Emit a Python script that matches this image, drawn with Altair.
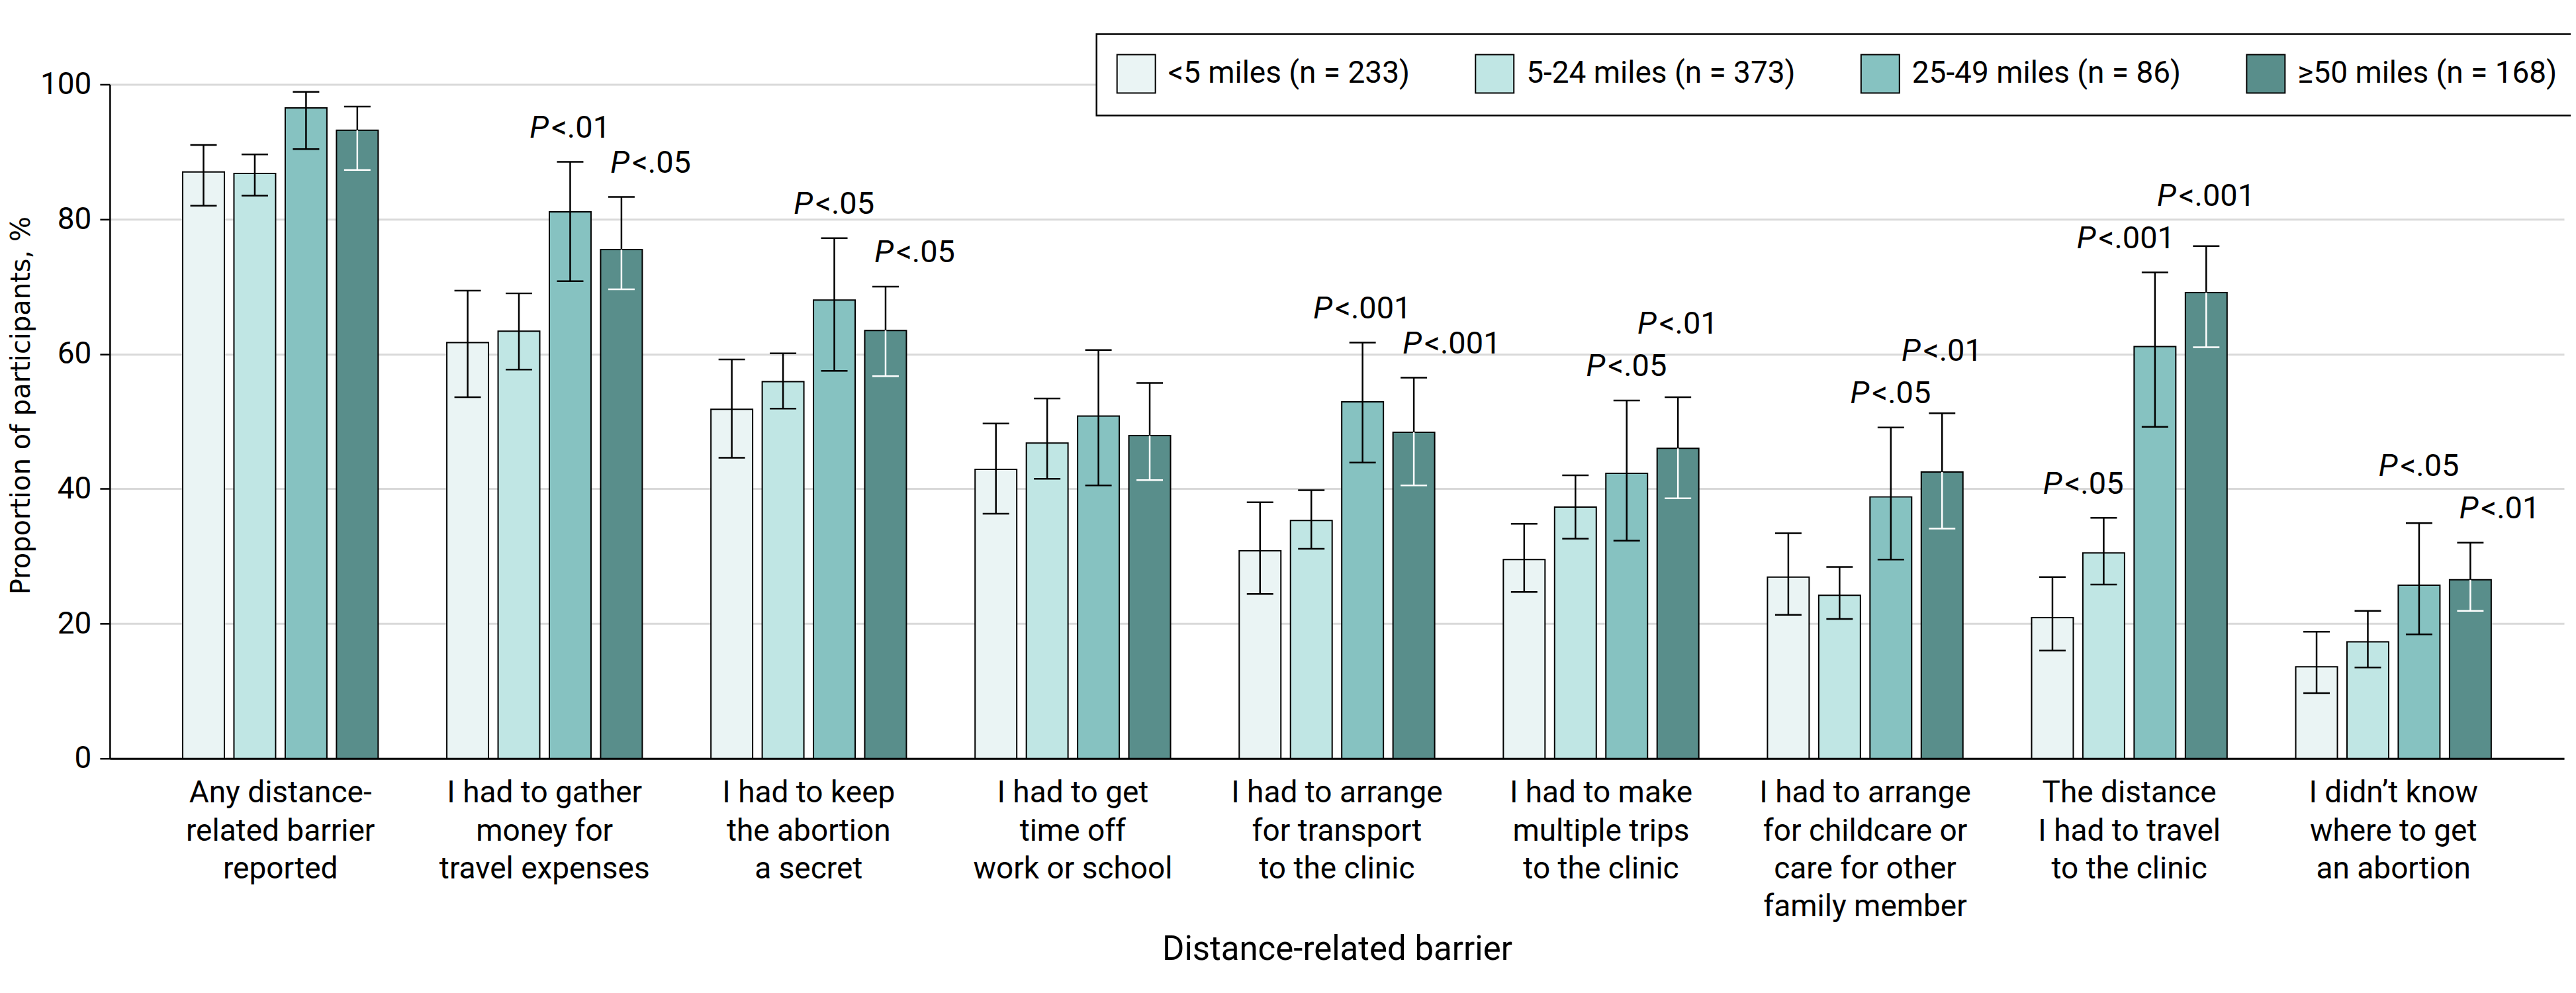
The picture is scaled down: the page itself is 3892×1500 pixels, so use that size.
import altair as alt
import pandas as pd

# ---------------- data ----------------
barriers = [
    "Any distance-|related barrier|reported",
    "I had to gather|money for|travel expenses",
    "I had to keep|the abortion|a secret",
    "I had to get|time off|work or school",
    "I had to arrange|for transport|to the clinic",
    "I had to make|multiple trips|to the clinic",
    "I had to arrange|for childcare or|care for other|family member",
    "The distance|I had to travel|to the clinic",
    "I didn\u2019t know|where to get|an abortion",
]
series = ["<5 miles (n = 233)", "5-24 miles (n = 373)",
          "25-49 miles (n = 86)", "\u226550 miles (n = 168)"]
colors = ["#EAF4F4", "#C0E6E4", "#86C2C1", "#598E8B"]

val_lt5 = [87.0, 61.7, 51.8, 42.9, 30.8, 29.5, 26.9, 20.9, 13.6]
low_lt5 = [82.0, 53.6, 44.6, 36.3, 24.4, 24.7, 21.3, 16.0, 9.7]
upp_lt5 = [91.0, 69.4, 59.2, 49.7, 38.0, 34.8, 33.4, 26.9, 18.8]

val_5_24 = [86.8, 63.4, 55.9, 46.8, 35.3, 37.3, 24.2, 30.5, 17.3]
low_5_24 = [83.5, 57.7, 51.9, 41.5, 31.1, 32.6, 20.7, 25.8, 13.5]
upp_5_24 = [89.6, 69.0, 60.1, 53.4, 39.8, 42.0, 28.4, 35.7, 21.9]

val_25_49 = [96.5, 81.1, 68.0, 50.8, 52.9, 42.3, 38.8, 61.1, 25.7]
low_25_49 = [90.4, 70.8, 57.5, 40.5, 43.9, 32.3, 29.5, 49.2, 18.4]
upp_25_49 = [98.9, 88.5, 77.2, 60.6, 61.7, 53.1, 49.1, 72.1, 34.9]

val_ge50 = [93.2, 75.5, 63.5, 47.9, 48.4, 46.0, 42.5, 69.1, 26.5]
low_ge50 = [87.3, 69.6, 56.7, 41.3, 40.5, 38.6, 34.1, 61.0, 21.9]
upp_ge50 = [96.7, 83.3, 70.0, 55.7, 56.5, 53.6, 51.2, 76.0, 32.0]

# significance labels: barrier index, series index, text, placement hint
lab_barrier = [1, 1, 2, 2, 4, 4, 5, 5, 6, 6, 7, 7, 7, 8, 8]
lab_series = [2, 3, 2, 3, 2, 3, 2, 3, 2, 3, 1, 2, 3, 2, 3]
lab_text = ["P<.01", "P<.05", "P<.05", "P<.05", "P<.001", "P<.001",
            "P<.05", "P<.01", "P<.05", "P<.01", "P<.05", "P<.001",
            "P<.001", "P<.05", "P<.01"]
lab_place = ["center", "right", "center", "right", "center", "right",
             "center", "raised", "center", "raised", "left", "left",
             "raised", "raised", "right"]

# ---------------- tables ----------------
vals = [val_lt5, val_5_24, val_25_49, val_ge50]
lows = [low_lt5, low_5_24, low_25_49, low_ge50]
upps = [upp_lt5, upp_5_24, upp_25_49, upp_ge50]
rows = []
for si, s in enumerate(series):
    for bi, b in enumerate(barriers):
        rows.append({"barrier": b, "series": s, "value": vals[si][bi],
                     "lower": lows[si][bi], "upper": upps[si][bi]})
df = pd.DataFrame(rows)

GAP = 3.6     # label baseline above CI top, in data units
STACK = 6.3   # vertical spacing between stacked labels, data units
lrows = []
for bi, si, t, p in zip(lab_barrier, lab_series, lab_text, lab_place):
    lrows.append({"barrier": barriers[bi], "series": series[si], "label": t,
                  "place": p, "base": upps[si][bi] + GAP, "bi": bi})
ldf = pd.DataFrame(lrows)
ys = []
for _, r in ldf.iterrows():
    if r["place"] == "raised":
        others = ldf[(ldf.bi == r.bi) & (ldf.place != "raised")]["base"]
        y = max(r["base"], (others.max() + STACK) if len(others) else r["base"])
    else:
        y = r["base"]
    ys.append(y)
ldf["label_y"] = ys

# ---------------- chart ----------------
FONT = "Roboto, 'Liberation Sans', sans-serif"
TITLE_FONT = "'DejaVu Sans', Verdana, sans-serif"

xenc = alt.X("barrier:N", sort=barriers,
             scale=alt.Scale(paddingInner=0.26, paddingOuter=0.276),
             axis=alt.Axis(title="Distance-related barrier",
                           labelExpr="split(datum.label, '|')",
                           labelAngle=0, labelFont=FONT, labelFontSize=46,
                           labelLineHeight=57.5, labelPadding=30,
                           labelLimit=1000, labelOverlap=False,
                           labelColor="black",
                           ticks=False, domainColor="black", domainWidth=3,
                           titleFont=FONT, titleFontSize=51,
                           titleFontWeight="normal", titleColor="black",
                           titleY=304, titleBaseline="alphabetic"))
xoff = alt.XOffset("series:N", sort=series,
                   scale=alt.Scale(paddingInner=0.187, paddingOuter=0))
yscale = alt.Scale(domain=[0, 100], nice=False)
yaxis = alt.Axis(title="Proportion of participants, %",
                 values=[0, 20, 40, 60, 80, 100], grid=True,
                 gridColor="#D9D9D9", gridWidth=3,
                 tickSize=15, tickWidth=2.5, tickColor="black",
                 domainColor="black", domainWidth=2.5,
                 labelFont=FONT, labelFontSize=46, labelPadding=13,
                 labelColor="black",
                 titleFont=TITLE_FONT, titleFontSize=40,
                 titleFontWeight="normal", titleColor="black",
                 titleX=-121, titleY=485, titleBaseline="alphabetic")

is50 = alt.datum.series == series[3]

bars = alt.Chart(df).mark_bar(stroke="black", strokeWidth=2).encode(
    x=xenc, xOffset=xoff,
    y=alt.Y("value:Q", scale=yscale, axis=yaxis),
    color=alt.Color("series:N", sort=series,
                    scale=alt.Scale(domain=series, range=colors),
                    legend=alt.Legend(title=None, orient="none",
                                      legendX=1492, legendY=-76,
                                      direction="horizontal", columns=4,
                                      columnPadding=95, padding=30,
                                      strokeColor="black", fillColor="white",
                                      labelFont=FONT, labelFontSize=46,
                                      labelColor="black",
                                      labelOffset=18, labelLimit=1000,
                                      symbolType="square", symbolSize=3364,
                                      symbolStrokeColor="black",
                                      symbolStrokeWidth=2,
                                      symbolOpacity=1)),
)

err_hi = alt.Chart(df).mark_rule(strokeWidth=2.5, color="black").encode(
    x=xenc, xOffset=xoff, y="value:Q", y2="upper:Q")
err_lo = alt.Chart(df).mark_rule(strokeWidth=2.5).encode(
    x=xenc, xOffset=xoff, y="lower:Q", y2="value:Q",
    color=alt.condition(is50, alt.value("white"), alt.value("black")))
cap_hi = alt.Chart(df).mark_tick(orient="horizontal", size=40,
                                 thickness=2.5, color="black", opacity=1).encode(
    x=xenc, xOffset=xoff, y="upper:Q")
cap_lo = alt.Chart(df).mark_tick(orient="horizontal", size=40,
                                 thickness=2.5, opacity=1).encode(
    x=xenc, xOffset=xoff, y="lower:Q",
    color=alt.condition(is50, alt.value("white"), alt.value("black")))

PW = 32
lab_base = alt.Chart(ldf).transform_calculate(
    rest="substring(datum.label, 1)"
).transform_calculate(
    rw="(0.561 * length(datum.rest) - 0.351) * 47"
).transform_calculate(
    jx=f"datum.place == 'right' ? {PW - 16} : "
       f"(datum.place == 'left' ? 30 - datum.rw : ({PW} - datum.rw) / 2)"
)
lab_p = lab_base.mark_text(text="P", fontStyle="italic", align="right",
                           baseline="alphabetic", font=FONT, fontSize=47,
                           color="black", dx={"expr": "datum.jx - 4"}).encode(
    x=xenc, xOffset=xoff, y="label_y:Q")
lab_r = lab_base.mark_text(align="left", baseline="alphabetic", font=FONT,
                           fontSize=47, color="black",
                           dx={"expr": "datum.jx"}).encode(
    x=xenc, xOffset=xoff, y="label_y:Q", text="rest:N")

chart = alt.layer(bars, err_hi, err_lo, cap_hi, cap_lo, lab_p, lab_r).properties(
    width=3711, height=1019,
    autosize=alt.AutoSizeParams(type="none"),
    padding={"left": 158, "top": 119, "right": 10, "bottom": 340},
).configure_view(strokeWidth=0).configure_legend(strokeWidth=2.5)

chart.save("out.html", embed_options={"renderer": "svg", "actions": False})
